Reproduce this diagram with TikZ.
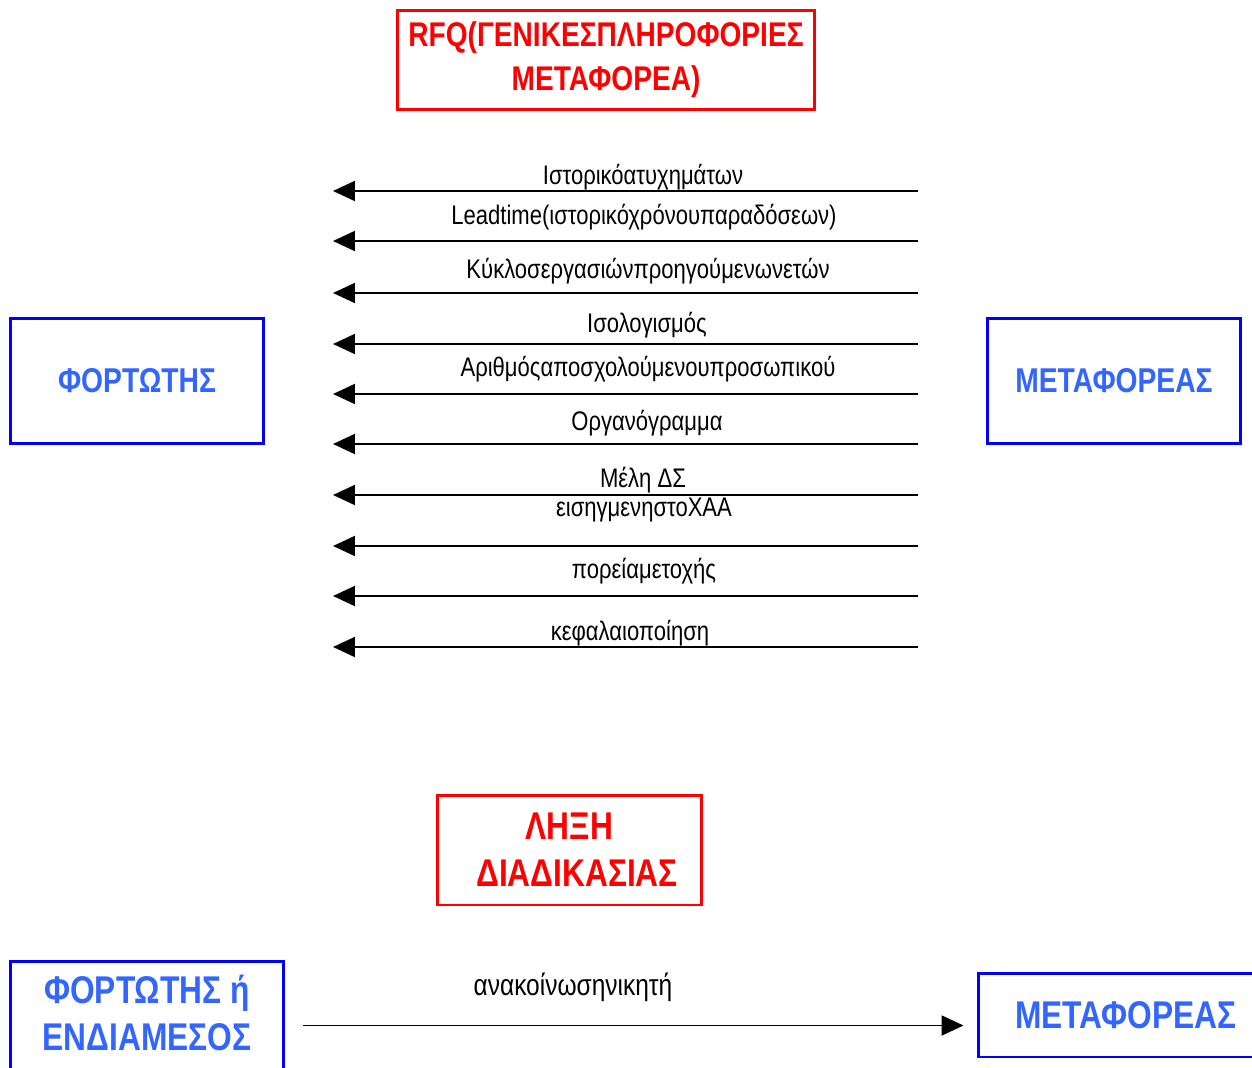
\documentclass[tikz,border=0pt]{standalone}
\usepackage{fontspec}
\setmainfont{Liberation Sans}
\newfontfamily\narrowfont[FakeStretch=0.82]{Liberation Sans}
\usetikzlibrary{arrows.meta,positioning}
\definecolor{boxblue}{RGB}{0,0,255}
\definecolor{txtblue}{RGB}{51,102,255}
\definecolor{boxred}{RGB}{255,0,0}
\tikzset{
  party/.style={draw=boxblue,line width=1.7pt,fill=white,text=txtblue,align=center,inner sep=0pt,font=\narrowfont\bfseries\fontsize{19.6}{26.6}\selectfont},
  bigparty/.style={party,font=\narrowfont\bfseries\fontsize{22}{26.6}\selectfont},
  stage/.style={draw=boxred,line width=1.7pt,fill=white,text=boxred,align=center,inner sep=0pt,font=\narrowfont\bfseries\fontsize{19.5}{25}\selectfont},
  bigstage/.style={stage,font=\narrowfont\bfseries\fontsize{22}{26.6}\selectfont},
  info/.style={inner sep=0pt,font=\narrowfont\fontsize{15.3}{18}\selectfont},
  msg/.style={-{Triangle[length=0.44cm,width=0.4cm]},line width=1.1pt}
}
\begin{document}
\begin{tikzpicture}[x=0.02cm,y=-0.02cm]
\useasboundingbox (0,0) rectangle (1252,1068);
\clip (0,0) rectangle (1252,1068);
\fill[white] (0,0) rectangle (1252,1068);

\node[stage,minimum width=8.36cm,minimum height=2cm] (rfq) at (606,60) {RFQ(ΓΕΝΙΚΕΣΠΛΗΡΟΦΟΡΙΕΣ\\ΜΕΤΑΦΟΡΕΑ)};
\node[party,minimum width=5.08cm,minimum height=2.52cm] (shipper) at (137,381) {ΦΟΡΤΩΤΗΣ};
\node[party,minimum width=5.08cm,minimum height=2.52cm] (carrier) at (1114,381) {ΜΕΤΑΦΟΡΕΑΣ};

\foreach \ya/\xl/\yl/\txt [count=\i] in {
  191/643/177/Ιστορικόατυχημάτων,
  241/644/217/Leadtime(ιστορικόχρόνουπαραδόσεων),
  293/648/271/Κύκλοσεργασιώνπροηγούμενωνετών,
  344/647/325/Ισολογισμός,
  394/648/369/Αριθμόςαποσχολούμενουπροσωπικού,
  444/647/423/Οργανόγραμμα,
  495/643/480/Μέλη ΔΣ,
  546/644/510/εισηγμενηστοΧΑΑ,
  596/644/571/πορείαμετοχής,
  647/630/633/κεφαλαιοποίηση}{
  \coordinate (from\i) at (918,\ya);
  \coordinate (to\i) at (333,\ya);
  \draw[msg] (from\i) -- (to\i);
  \node[info] (info\i) at (\xl,\yl) {\txt};
}

\node[bigstage,minimum width=5.3cm,minimum height=2.2cm] (end) at (569.5,850) {ΛΗΞΗ\\\hspace*{0.3cm}ΔΙΑΔΙΚΑΣΙΑΣ};
\node[bigparty,minimum width=5.48cm,minimum height=2.58cm,text depth=0.5cm] (shipper2) at (147,1025.5) {ΦΟΡΤΩΤΗΣ ή\\ΕΝΔΙΑΜΕΣΟΣ};
\node[bigparty,minimum width=5.92cm,minimum height=1.68cm] (carrier2) at (1126,1015) {ΜΕΤΑΦΟΡΕΑΣ};

\draw[msg,shorten <=0.36cm,shorten >=0.26cm] (shipper2.east) -- (shipper2.east -| carrier2.west);
\node[info,font=\narrowfont\fontsize{17}{20}\selectfont] (award) at (573,987) {ανακοίνωσηνικητή};
\end{tikzpicture}
\end{document}
